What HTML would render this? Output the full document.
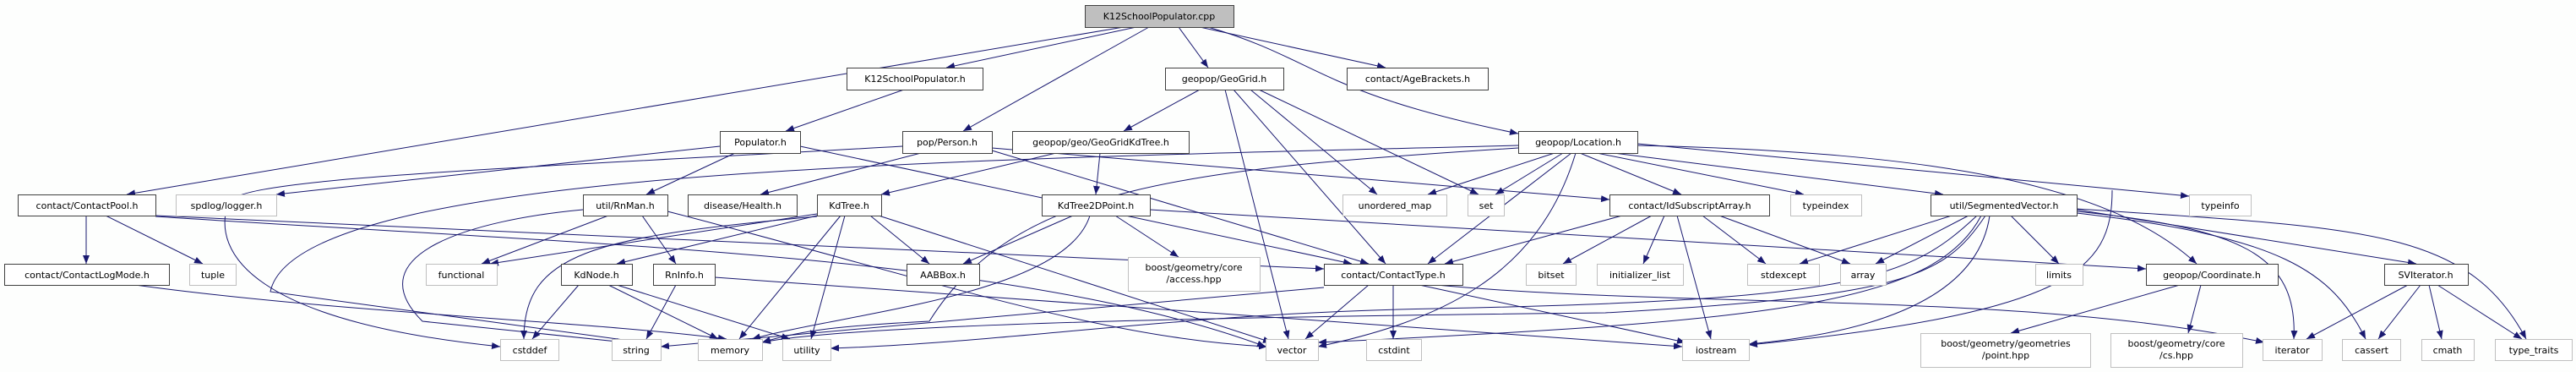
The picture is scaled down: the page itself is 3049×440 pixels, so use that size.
<!DOCTYPE html>
<html><head><meta charset="utf-8">
<style>
html,body{margin:0;padding:0;background:#fdfefd;}
svg{display:block;}
text{font-family:"DejaVu Sans","Liberation Sans",sans-serif;font-size:11px;fill:#000;}
.n{fill:#fff;stroke:#404040;stroke-width:1;}
.g{fill:#fff;stroke:#bfbfbf;stroke-width:1;}
.e{stroke:#191970;stroke-width:1;fill:none;marker-end:url(#a);}
</style></head><body>
<svg width="3049" height="440" viewBox="0 0 3049 440" xmlns="http://www.w3.org/2000/svg">
<defs><marker id="a" markerUnits="userSpaceOnUse" markerWidth="11" markerHeight="8" refX="10" refY="4" orient="auto"><path d="M0,0 L10,4 L0,8 z" fill="#191970"/></marker></defs>
<g>
<path class="e" d="M1330,32 L150,230"/>
<path class="e" d="M1345,32 L1120,80"/>
<path class="e" d="M1360,32 L1140,155"/>
<path class="e" d="M1395,32 L1430,80"/>
<path class="e" d="M1420,32 L1640,80"/>
<path class="e" d="M1430,32 C1560,70 1560,110 1797,158"/>
<path class="e" d="M1070,106 L930,155"/>
<path class="e" d="M870,181 L765,230"/>
<path class="e" d="M852,173 L327,230"/>
<path class="e" d="M947,173 L1600,312"/>
<path class="e" d="M1068,173 C600,200 280,210 270,240 C250,300 300,380 592,410"/>
<path class="e" d="M1090,181 L900,230"/>
<path class="e" d="M1174,178 L1620,312"/>
<path class="e" d="M1174,175 L1905,236"/>
<path class="e" d="M1420,106 L1330,155"/>
<path class="e" d="M1450,106 L1525,401"/>
<path class="e" d="M1460,106 L1640,312"/>
<path class="e" d="M1480,106 L1630,230"/>
<path class="e" d="M1490,106 L1750,230"/>
<path class="e" d="M1250,181 L1043,230"/>
<path class="e" d="M1302,181 L1297,230"/>
<path class="e" d="M1840,181 L1690,230"/>
<path class="e" d="M1850,181 L1770,230"/>
<path class="e" d="M1870,181 L1990,230"/>
<path class="e" d="M1890,181 L2135,230"/>
<path class="e" d="M1910,181 L2300,230"/>
<path class="e" d="M1938,170 L2591,232"/>
<path class="e" d="M1938,172 C2300,180 2500,220 2600,312"/>
<path class="e" d="M1860,181 L1690,312"/>
<path class="e" d="M1865,181 C1820,330 1700,380 1560,410"/>
<path class="e" d="M1797,172 C1100,190 350,200 320,345 L782,408"/>
<path class="e" d="M1797,175 C1400,200 1200,220 1100,380 C1000,385 950,390 902,405"/>
<path class="e" d="M102,255 L102,312"/>
<path class="e" d="M125,255 L240,312"/>
<path class="e" d="M184,255 L1567,318"/>
<path class="e" d="M184,256 C700,290 1200,300 1498,410"/>
<path class="e" d="M160,337 C400,370 700,380 860,401"/>
<path class="e" d="M720,255 L570,312"/>
<path class="e" d="M760,255 L800,312"/>
<path class="e" d="M690,248 C560,260 420,300 500,380 L740,405"/>
<path class="e" d="M790,250 C1100,330 1300,400 1500,410"/>
<path class="e" d="M967,253 L580,312"/>
<path class="e" d="M967,255 L730,312"/>
<path class="e" d="M1030,255 L1100,312"/>
<path class="e" d="M995,255 L875,401"/>
<path class="e" d="M1000,255 L960,401"/>
<path class="e" d="M1040,255 L1505,405"/>
<path class="e" d="M967,256 C700,280 620,300 620,401"/>
<path class="e" d="M685,337 L630,401"/>
<path class="e" d="M720,337 L850,401"/>
<path class="e" d="M730,337 L935,401"/>
<path class="e" d="M800,337 L765,401"/>
<path class="e" d="M846,328 L1991,410"/>
<path class="e" d="M1270,255 L1140,312"/>
<path class="e" d="M1320,255 L1395,304"/>
<path class="e" d="M1290,255 C1260,350 1000,370 890,401"/>
<path class="e" d="M1361,248 L2540,318"/>
<path class="e" d="M1920,255 L1710,312"/>
<path class="e" d="M1955,255 L1850,312"/>
<path class="e" d="M1970,255 L1945,312"/>
<path class="e" d="M1985,255 L2025,401"/>
<path class="e" d="M2015,255 L2090,312"/>
<path class="e" d="M2035,255 L2190,312"/>
<path class="e" d="M1620,337 L1545,401"/>
<path class="e" d="M1649,337 L1649,401"/>
<path class="e" d="M1680,337 L1995,405"/>
<path class="e" d="M1567,340 L782,410"/>
<path class="e" d="M1700,337 C2000,365 2400,345 2680,405"/>
<path class="e" d="M2310,255 L2130,312"/>
<path class="e" d="M2330,255 L2220,312"/>
<path class="e" d="M2340,255 C2260,330 2200,355 1700,365 C1400,370 1200,405 983,412"/>
<path class="e" d="M2345,255 C2290,360 2100,380 1560,405"/>
<path class="e" d="M2350,255 C2300,330 2250,350 1900,370 C1400,375 1000,385 902,405"/>
<path class="e" d="M2355,255 C2340,360 2200,395 2070,407"/>
<path class="e" d="M2380,255 L2437,312"/>
<path class="e" d="M2458,248 L2860,312"/>
<path class="e" d="M2458,250 C2650,270 2720,300 2715,401"/>
<path class="e" d="M2458,252 C2700,280 2760,320 2800,401"/>
<path class="e" d="M2458,247 C2800,270 2920,270 2990,401"/>
<path class="e" d="M2580,337 L2380,394"/>
<path class="e" d="M2605,337 L2590,394"/>
<path class="e" d="M2500,225 C2500,320 2450,370 2070,408"/>
<path class="e" d="M2850,337 L2730,401"/>
<path class="e" d="M2865,337 L2815,401"/>
<path class="e" d="M2875,337 L2890,401"/>
<path class="e" d="M2885,337 L2985,401"/>
</g>
<g>
<rect x="1284.5" y="6.5" width="176" height="26" fill="#bfbfbf" stroke="#404040"/><text x="1372" y="23" text-anchor="middle">K12SchoolPopulator.cpp</text>
<rect class="n" x="1002.5" y="80.5" width="161" height="26"/><text x="1083" y="97" text-anchor="middle">K12SchoolPopulator.h</text>
<rect class="n" x="1379.5" y="80.5" width="140" height="26"/><text x="1449" y="97" text-anchor="middle">geopop/GeoGrid.h</text>
<rect class="n" x="1594.5" y="80.5" width="167" height="26"/><text x="1678" y="97" text-anchor="middle">contact/AgeBrackets.h</text>
<rect class="n" x="852.5" y="155.5" width="95" height="26"/><text x="900" y="172" text-anchor="middle">Populator.h</text>
<rect class="n" x="1068.5" y="155.5" width="106" height="26"/><text x="1121" y="172" text-anchor="middle">pop/Person.h</text>
<rect class="n" x="1198.5" y="155.5" width="209" height="26"/><text x="1303" y="172" text-anchor="middle">geopop/geo/GeoGridKdTree.h</text>
<rect class="n" x="1797.5" y="155.5" width="141" height="26"/><text x="1868" y="172" text-anchor="middle">geopop/Location.h</text>
<rect class="n" x="21.5" y="230.5" width="163" height="25"/><text x="103" y="247" text-anchor="middle">contact/ContactPool.h</text>
<rect class="g" x="208.5" y="230.5" width="119" height="25"/><text x="268" y="247" text-anchor="middle">spdlog/logger.h</text>
<rect class="n" x="690.5" y="230.5" width="100" height="25"/><text x="740" y="247" text-anchor="middle">util/RnMan.h</text>
<rect class="n" x="814.5" y="230.5" width="129" height="25"/><text x="879" y="247" text-anchor="middle">disease/Health.h</text>
<rect class="n" x="967.5" y="230.5" width="76" height="25"/><text x="1005" y="247" text-anchor="middle">KdTree.h</text>
<rect class="n" x="1233.5" y="230.5" width="128" height="25"/><text x="1297" y="247" text-anchor="middle">KdTree2DPoint.h</text>
<rect class="g" x="1589.5" y="230.5" width="123" height="25"/><text x="1651" y="247" text-anchor="middle">unordered_map</text>
<rect class="g" x="1737.5" y="230.5" width="43" height="25"/><text x="1759" y="247" text-anchor="middle">set</text>
<rect class="n" x="1905.5" y="230.5" width="189" height="25"/><text x="2000" y="247" text-anchor="middle">contact/IdSubscriptArray.h</text>
<rect class="g" x="2119.5" y="230.5" width="84" height="25"/><text x="2161" y="247" text-anchor="middle">typeindex</text>
<rect class="n" x="2285.5" y="230.5" width="173" height="25"/><text x="2372" y="247" text-anchor="middle">util/SegmentedVector.h</text>
<rect class="g" x="2591.5" y="230.5" width="73" height="25"/><text x="2628" y="247" text-anchor="middle">typeinfo</text>
<rect class="n" x="5.5" y="312.5" width="195" height="25"/><text x="103" y="329" text-anchor="middle">contact/ContactLogMode.h</text>
<rect class="g" x="224.5" y="312.5" width="55" height="25"/><text x="252" y="329" text-anchor="middle">tuple</text>
<rect class="g" x="504.5" y="312.5" width="84" height="25"/><text x="546" y="329" text-anchor="middle">functional</text>
<rect class="n" x="664.5" y="312.5" width="84" height="25"/><text x="706" y="329" text-anchor="middle">KdNode.h</text>
<rect class="n" x="773.5" y="312.5" width="73" height="25"/><text x="810" y="329" text-anchor="middle">RnInfo.h</text>
<rect class="n" x="1073.5" y="312.5" width="86" height="25"/><text x="1116" y="329" text-anchor="middle">AABBox.h</text>
<rect class="g" x="1335.5" y="304.5" width="156" height="40"/><text x="1413" y="320" text-anchor="middle">boost/geometry/core</text><text x="1413" y="334" text-anchor="middle">/access.hpp</text>
<rect class="n" x="1567.5" y="312.5" width="164" height="25"/><text x="1649" y="329" text-anchor="middle">contact/ContactType.h</text>
<rect class="g" x="1806.5" y="312.5" width="59" height="25"/><text x="1836" y="329" text-anchor="middle">bitset</text>
<rect class="g" x="1890.5" y="312.5" width="102" height="25"/><text x="1941" y="329" text-anchor="middle">initializer_list</text>
<rect class="g" x="2068.5" y="312.5" width="85" height="25"/><text x="2111" y="329" text-anchor="middle">stdexcept</text>
<rect class="g" x="2178.5" y="312.5" width="54" height="25"/><text x="2205" y="329" text-anchor="middle">array</text>
<rect class="g" x="2409.5" y="312.5" width="56" height="25"/><text x="2437" y="329" text-anchor="middle">limits</text>
<rect class="n" x="2540.5" y="312.5" width="156" height="25"/><text x="2618" y="329" text-anchor="middle">geopop/Coordinate.h</text>
<rect class="n" x="2822.5" y="312.5" width="99" height="25"/><text x="2871" y="329" text-anchor="middle">SVIterator.h</text>
<rect class="g" x="592.5" y="401.5" width="69" height="25"/><text x="627" y="418" text-anchor="middle">cstddef</text>
<rect class="g" x="724.5" y="401.5" width="58" height="25"/><text x="753" y="418" text-anchor="middle">string</text>
<rect class="g" x="826.5" y="401.5" width="76" height="25"/><text x="864" y="418" text-anchor="middle">memory</text>
<rect class="g" x="926.5" y="401.5" width="57" height="25"/><text x="955" y="418" text-anchor="middle">utility</text>
<rect class="g" x="1498.5" y="401.5" width="62" height="25"/><text x="1529" y="418" text-anchor="middle">vector</text>
<rect class="g" x="1617.5" y="401.5" width="65" height="25"/><text x="1650" y="418" text-anchor="middle">cstdint</text>
<rect class="g" x="1991.5" y="401.5" width="79" height="25"/><text x="2031" y="418" text-anchor="middle">iostream</text>
<rect class="g" x="2273.5" y="394.5" width="201" height="40"/><text x="2374" y="410" text-anchor="middle">boost/geometry/geometries</text><text x="2374" y="424" text-anchor="middle">/point.hpp</text>
<rect class="g" x="2498.5" y="394.5" width="156" height="40"/><text x="2576" y="410" text-anchor="middle">boost/geometry/core</text><text x="2576" y="424" text-anchor="middle">/cs.hpp</text>
<rect class="g" x="2678.5" y="401.5" width="70" height="25"/><text x="2713" y="418" text-anchor="middle">iterator</text>
<rect class="g" x="2772.5" y="401.5" width="69" height="25"/><text x="2807" y="418" text-anchor="middle">cassert</text>
<rect class="g" x="2866.5" y="401.5" width="62" height="25"/><text x="2897" y="418" text-anchor="middle">cmath</text>
<rect class="g" x="2953.5" y="401.5" width="91" height="25"/><text x="2999" y="418" text-anchor="middle">type_traits</text>
</g>
</svg>
</body></html>
